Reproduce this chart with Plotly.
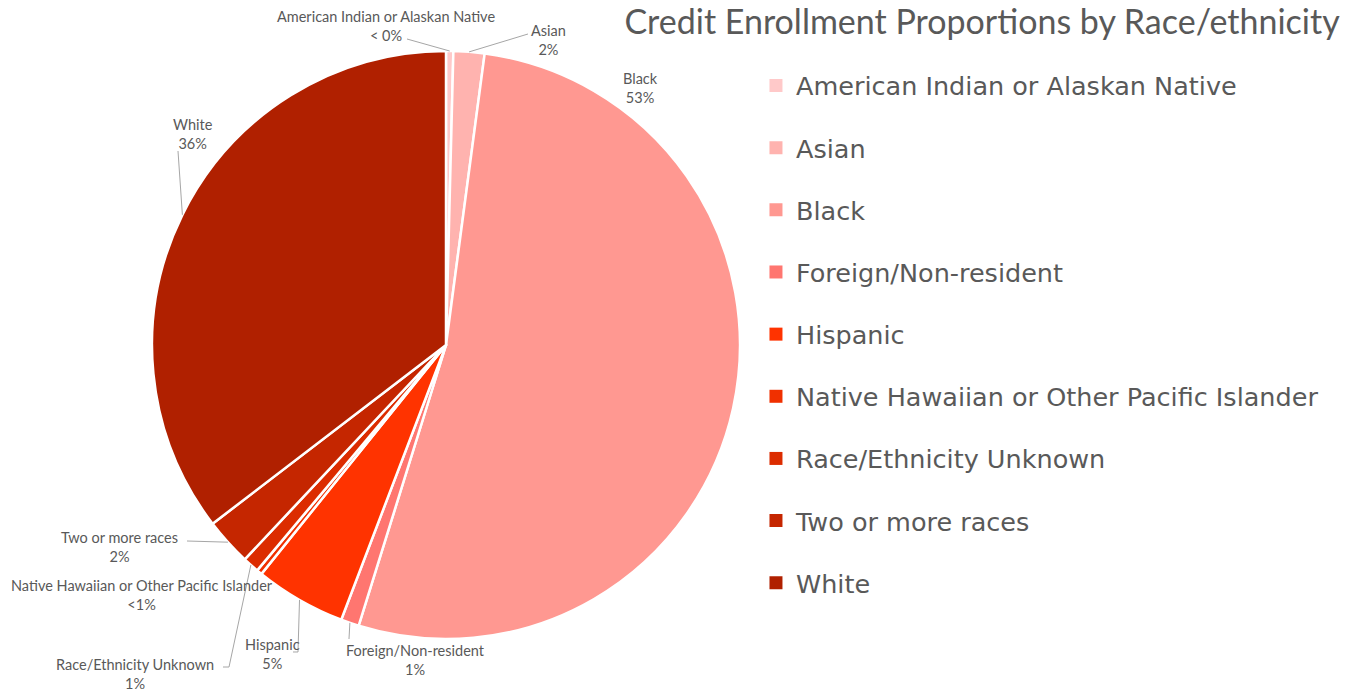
import math
import plotly.graph_objects as go

categories = ["American Indian or Alaskan Native", "Asian", "Black", "Foreign/Non-resident",
              "Hispanic", "Native Hawaiian or Other Pacific Islander", "Race/Ethnicity Unknown",
              "Two or more races", "White"]
values = [0.4, 1.7, 52.7, 1.0, 5.0, 0.3, 0.9, 2.6, 35.4]
pct_labels = ["< 0%", "2%", "53%", "1%", "5%", "<1%", "1%", "2%", "36%"]

# ---- styling ----
colors = ["#FFC9C9", "#FFB3AF", "#FF9891", "#FF7670", "#FF3300", "#F03000",
          "#DC2C00", "#C52600", "#B02000"]
W, H = 1356, 694
TEXT = "#595959"
PIE_PX = dict(x0=152, x1=740, y0=51, y1=639)   # pie box in pixels
# label block centres (pixels)
label_pos = [(386, 26), (548, 40), (640, 88), (415, 660), (272, 654),
             (142, 595), (135, 674), (119, 547), (193, 134)]
# leader-line routing (pixels): intermediate elbow points then end point at the label; None = no leader
leader_route = [[(407, 39)], [(528, 34)], None, [(349, 639)],
                [(298, 652), (293, 652)], None, [(229, 667), (223, 667)],
                [(187, 541)], [(178, 151)]]
LABEL_FONT = dict(family="Lato", size=14.5, color=TEXT)

fig = go.Figure()
fig.add_trace(go.Pie(
    labels=categories, values=values,
    sort=False, direction="clockwise", rotation=0,
    marker=dict(colors=colors, line=dict(color="white", width=2.5)),
    textinfo="none",
    domain=dict(x=[PIE_PX["x0"]/W, PIE_PX["x1"]/W], y=[1-PIE_PX["y1"]/H, 1-PIE_PX["y0"]/H]),
    showlegend=False, hoverinfo="label+percent",
))
for c, col in zip(categories, colors):
    fig.add_trace(go.Scatter(x=[None], y=[None], mode="markers", name=c,
                             legendgroup=c, hoverinfo="skip",
                             marker=dict(symbol="square", size=13, color=col)))

# data labels with leader lines: tips computed from slice mid-angles
cx = (PIE_PX["x0"] + PIE_PX["x1"]) / 2
cy = (PIE_PX["y0"] + PIE_PX["y1"]) / 2
r = (PIE_PX["x1"] - PIE_PX["x0"]) / 2
total = sum(values)


def px2paper(p):
    return p[0] / W, 1 - p[1] / H


cum = 0.0
for name, v, pct, lp, route in zip(categories, values, pct_labels, label_pos, leader_route):
    mid = (cum + v / 2) / total * 2 * math.pi
    cum += v
    tip = (cx + r * math.sin(mid), cy - r * math.cos(mid))
    if route:
        pts = [px2paper(tip)] + [px2paper(p) for p in route]
        path = "M " + " L ".join(f"{x:.5f},{y:.5f}" for x, y in pts)
        fig.add_shape(type="path", path=path, xref="paper", yref="paper",
                      line=dict(color="#A6A6A6", width=1), layer="above")
    lx, ly = px2paper(lp)
    fig.add_annotation(x=lx, y=ly, xref="paper", yref="paper",
                       xanchor="center", yanchor="middle",
                       text=f"{name}<br>{pct}", showarrow=False, font=LABEL_FONT)

fig.update_layout(
    width=W, height=H, margin=dict(l=0, r=0, t=0, b=0),
    paper_bgcolor="white", plot_bgcolor="white",
    xaxis=dict(visible=False), yaxis=dict(visible=False),
    title=dict(text="Credit Enrollment Proportions by Race/ethnicity",
               font=dict(family="Lato", size=34, color=TEXT),
               x=0.988, xanchor="right", y=0.986, yanchor="top"),
    legend=dict(x=0.5575, xanchor="left", y=0.91, yanchor="top",
                font=dict(family="DejaVu Sans", size=25.5, color=TEXT),
                tracegroupgap=26, bgcolor="rgba(0,0,0,0)"),
)
fig.write_html("out.html", config={"displayModeBar": False},
               post_script="document.body.style.margin='0';")
